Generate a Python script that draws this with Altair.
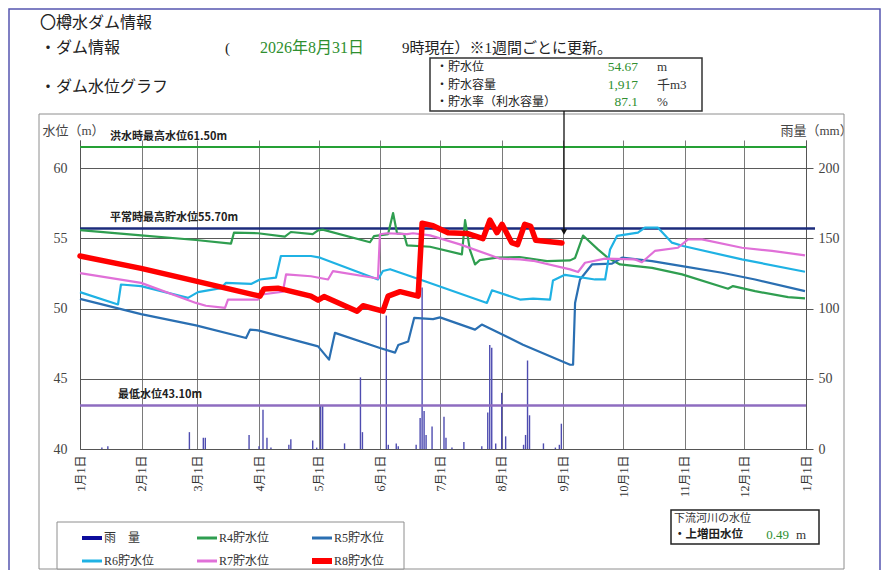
import altair as alt
import pandas as pd

# ---------------- data ----------------
MONTH_DAYS = [0, 31, 59, 90, 120, 151, 181, 212, 243, 273, 304, 334, 365]
MONTH_LABELS = ["1月1日", "2月1日", "3月1日", "4月1日", "5月1日", "6月1日", "7月1日",
                "8月1日", "9月1日", "10月1日", "11月1日", "12月1日", "1月1日"]

SERIES = ["R4貯水位", "R5貯水位", "R6貯水位", "R7貯水位", "R8貯水位"]

R4_DAY = [0, 30.7, 58.3, 75.9, 77.4, 89.5, 103, 106, 117, 119.7, 122, 145.8, 147.8, 154.9, 157.4,
          159.4, 162.9, 164.4, 176, 192, 193.6, 196, 198.6, 201, 209.6, 221, 234.8, 246.4, 248.9, 252.9,
          260.4, 265.5, 271.5, 287.6, 302.7, 325.8, 328.3, 339.4, 356, 364.5]
R4_LV = [55.59, 55.21, 54.88, 54.62, 55.40, 55.36, 55.12, 55.45, 55.30, 55.57, 55.62, 54.72, 55.15, 55.30, 56.80,
         55.35, 55.30, 54.50, 54.40, 53.86, 56.30, 54.20, 53.14, 53.45, 53.62, 53.67, 53.38, 53.43, 53.60, 55.20,
         54.21, 53.60, 53.14, 52.90, 52.43, 51.41, 51.60, 51.24, 50.81, 50.72]

R5_DAY = [0, 30.7, 58.3, 83.5, 85.5, 89.5, 119.7, 125.2, 128.2, 150.8, 158.4, 160, 165, 168, 177.5,
          181, 198.6, 202, 222.7, 246.4, 247.9, 248.9, 251.4, 257.4, 267.5, 272.5, 287.6, 302.7, 322.8,
          339.4, 364.5]
R5_LV = [50.69, 49.6, 48.8, 47.9, 48.5, 48.45, 47.31, 46.36, 48.27, 47.19, 46.86, 47.4, 47.66, 49.33, 49.25,
         49.37, 48.5, 48.86, 47.43, 46.0, 46.0, 50.4, 52.07, 53.14, 53.2, 53.62, 53.38, 53.02, 52.55,
         52.07, 51.24]

R6_DAY = [0, 19.1, 20.6, 30.7, 54.3, 59.3, 70.9, 73.4, 86, 90.5, 98.5, 101, 116.1, 120.7, 149.8,
          152.3, 155.9, 170.9, 204.6, 207.1, 221.2, 227.8, 236.3, 237.8, 243.8, 258.9, 264, 266.5, 270,
          280.5, 284, 290.6, 297.6, 303.2, 332.8, 364.5]
R6_LV = [51.17, 50.29, 51.71, 51.6, 50.76, 51.17, 51.45, 51.83, 51.75, 52.07, 52.2, 53.74, 53.74, 53.62, 52.07,
         52.67, 52.8, 52.07, 50.4, 51.3, 50.64, 50.7, 50.64, 52.0, 52.4, 52.07, 52.07, 54.21, 55.17,
         55.4, 55.76, 55.76, 54.69, 54.45, 53.5, 52.62]

R7_DAY = [0, 30.7, 58.3, 63.3, 72.9, 74.4, 89.5, 91.5, 102, 103.6, 116.1, 124.7, 127.2, 149.8, 150.8,
          154.3, 164.4, 167.4, 176, 191, 211.2, 221.2, 227.8, 246.4, 250.4, 253.9, 264, 279, 282.5, 285,
          289, 300.6, 305.7, 312.7, 332.8, 347.9, 364.5]
R7_LV = [52.52, 51.83, 50.4, 50.2, 50.05, 50.64, 50.64, 51.0, 51.2, 52.43, 52.3, 52.07, 52.67, 52.14, 55.29,
         55.36, 55.3, 55.36, 55.21, 54.57, 53.55, 53.5, 53.4, 52.79, 52.6, 53.26, 53.55, 53.5, 53.3, 53.6,
         54.1, 54.33, 54.93, 54.93, 54.33, 54.1, 53.79]

R8_DAY = [0, 30.7, 58.3, 90.5, 92.5, 99.5, 116.1, 119.7, 122.7, 139.3, 142.3, 152.3, 154.9, 160.9, 170,
          172, 177.5, 185, 194.6, 202.6, 206.1, 209.6, 212.2, 217, 220, 223.6, 226.6, 229.1, 242.3]
R8_LV = [53.74, 52.86, 51.95, 50.88, 51.4, 51.45, 50.88, 50.6, 50.85, 49.81, 50.2, 49.81, 50.88, 51.2, 50.88,
         56.07, 55.9, 55.4, 55.35, 54.98, 56.3, 55.4, 56.0, 54.7, 54.55, 56.0, 55.85, 54.86, 54.67]

RAIN_DAY = [11, 14, 55, 62, 63, 85, 90, 92, 94, 96, 105, 106, 117, 119, 121, 122, 133, 141, 142, 154,
            155, 159, 160, 169, 171, 172, 173, 174, 177, 183, 184, 187, 193, 202, 205, 206, 207, 209, 212,
            214, 223, 224, 225, 226, 233, 239, 241, 242]
RAIN_MM = [1, 2, 12, 8, 8, 10, 2, 28, 8, 1, 3, 7, 6, 1, 31, 31, 4, 51, 12, 95,
           3, 4, 2, 3, 22, 115, 27, 10, 16, 23, 8, 1, 5, 2, 26, 74, 72, 4, 40,
           9, 3, 10, 63, 24, 4, 1, 3, 18]

REF_NAMES = ["洪水時最高水位61.50m", "平常時最高貯水位55.70m", "最低水位43.10m"]
REF_LEVELS = [61.5, 55.7, 43.1]

INFO_LABELS = ["・貯水位", "・貯水容量", "・貯水率（利水容量）"]
INFO_VALUES = ["54.67", "1,917", "87.1"]
INFO_UNITS = ["m", "千m3", "%"]

LEGEND_NAMES = ["雨　量", "R4貯水位", "R5貯水位", "R6貯水位", "R7貯水位", "R8貯水位"]

# ---------------- styles / layout ----------------
SANS = "Noto Sans CJK JP"
SERIF = "Liberation Serif, Noto Sans CJK JP"
SERIES_COLORS = ["#2f9e50", "#2a6fb2", "#1fb2e4", "#e070d8", "#ff0000"]
LEGEND_COLORS = ["#0c0c9c"] + SERIES_COLORS
LEGEND_WIDTHS = [4, 3, 3, 3, 3, 6]
REF_COLORS = ["#25a035", "#1c2c7c", "#8e6cc0"]
REF_WIDTHS = [2, 2.5, 2.5]
REF_LABEL_X = [110, 110, 118]
GREEN_TXT = "#2f8f2f"

W, H = 726, 309
X0, Y0 = 80, 140  # page position of plot origin


def px(x):
    return x - X0


def py(y):
    return y - Y0


one = pd.DataFrame({"k": [0]})

xscale = alt.Scale(domain=[0, 365], nice=False, zero=False)
yscale = alt.Scale(domain=[40, 62], nice=False, zero=False)
rscale = alt.Scale(domain=[0, 220], nice=False, zero=False)

label_expr = ("[" + ",".join("'%s'" % s for s in MONTH_LABELS) + "][indexof(["
              + ",".join(str(d) for d in MONTH_DAYS) + "], datum.value)]")

xaxis = alt.Axis(values=MONTH_DAYS, labelExpr=label_expr, labelAngle=270, grid=True,
                 gridColor="#7a7a7a", gridWidth=1, domainColor="#555", ticks=False,
                 labelPadding=6, labelFont=SERIF, labelFontSize=12, labelColor="#333", title=None)
yaxis = alt.Axis(values=[40, 45, 50, 55, 60], grid=True, gridColor="#5a5a5a", ticks=False,
                 labelPadding=13, labelFont=SERIF, labelFontSize=14, labelColor="#444",
                 domainColor="#555", title="水位（m）", titleAngle=0, titleX=-38, titleY=-3,
                 titleAlign="left", titleBaseline="bottom", titleFont=SERIF, titleFontSize=13,
                 titleFontWeight="normal", titleColor="#444")
raxis = alt.Axis(orient="right", values=[0, 50, 100, 150, 200], grid=False, tickSize=7,
                 tickColor="#555", labelPadding=5, labelFont=SERIF, labelFontSize=14,
                 labelColor="#444", domainColor="#555", title="雨量（mm）", titleAngle=0,
                 titleX=-26, titleY=-3, titleAlign="left", titleBaseline="bottom",
                 titleFont=SERIF, titleFontSize=13, titleFontWeight="normal", titleColor="#444")

# ---------------- data frames ----------------
rows = []
for name, days, lvs in zip(SERIES, [R4_DAY, R5_DAY, R6_DAY, R7_DAY, R8_DAY],
                           [R4_LV, R5_LV, R6_LV, R7_LV, R8_LV]):
    for d, v in zip(days, lvs):
        rows.append({"series": name, "day": d, "level": v})
lvl_df = pd.DataFrame(rows)
rain_df = pd.DataFrame({"day": RAIN_DAY, "mm": RAIN_MM})

color_enc = alt.Color("series:N", scale=alt.Scale(domain=SERIES, range=SERIES_COLORS), legend=None)

base = alt.Chart(lvl_df).encode(
    x=alt.X("day:Q", scale=xscale, axis=xaxis),
    y=alt.Y("level:Q", scale=yscale, axis=yaxis),
    color=color_enc,
)
lines_thin = base.transform_filter(alt.datum.series != "R8貯水位").mark_line(
    strokeWidth=2.2, strokeJoin="round")
lines_r8 = base.transform_filter(alt.datum.series == "R8貯水位").mark_line(
    strokeWidth=5.5, strokeJoin="round", strokeCap="round")

ref_layers = []
for name, lv, col, sw, lx in zip(REF_NAMES, REF_LEVELS, REF_COLORS, REF_WIDTHS, REF_LABEL_X):
    rdf = pd.DataFrame({"level": [lv], "name": [name]})
    rule = alt.Chart(rdf).mark_rule(color=col, strokeWidth=sw).encode(
        y=alt.Y("level:Q", scale=yscale, axis=yaxis),
        x=alt.value(0), x2=alt.value(W + (9 if lv == 55.7 else 0)))
    lab = alt.Chart(rdf).mark_text(align="left", baseline="middle", dy=-10, font=SANS,
                                   fontSize=11, fontWeight="bold", color="#222").encode(
        y=alt.Y("level:Q", scale=yscale, axis=yaxis), x=alt.value(px(lx)), text="name:N")
    ref_layers += [rule, lab]

main = alt.layer(*ref_layers, lines_thin, lines_r8)

rain = alt.Chart(rain_df).mark_rule(color="#4e4cb0", strokeWidth=1.4).encode(
    x=alt.X("day:Q", scale=xscale, axis=xaxis),
    y=alt.Y("mm:Q", scale=rscale, axis=raxis),
    y2=alt.datum(0),
)


# ---------------- annotations ----------------
def txt(t, x, y, size, color="#222", font=SANS, weight="normal", align="left", baseline="middle"):
    return alt.Chart(pd.DataFrame({"t": [t]})).mark_text(
        align=align, baseline=baseline, font=font, fontSize=size, fontWeight=weight, color=color
    ).encode(text="t:N", x=alt.value(px(x)), y=alt.value(py(y)))


def box(x1, y1, x2, y2, stroke, sw=1.0, fill="white", fill_op=1.0):
    return alt.Chart(one).mark_rect(fill=fill, fillOpacity=fill_op, stroke=stroke,
                                    strokeWidth=sw).encode(
        x=alt.value(px(x1)), x2=alt.value(px(x2)), y=alt.value(py(y1)), y2=alt.value(py(y2)))


def hline(x1, x2, y, color, sw):
    return alt.Chart(one).mark_rule(color=color, strokeWidth=sw).encode(
        x=alt.value(px(x1)), x2=alt.value(px(x2)), y=alt.value(py(y)))


frames = [
    box(9, 9, 880, 600, "#5656b0", 1.5, fill="white", fill_op=0),
    box(39, 114, 844, 569, "#8e8e8e", 1.0, fill="white", fill_op=0),
]

annos = [
    txt("〇樽水ダム情報", 40, 23, 16),
    txt("・ダム情報", 40, 48, 16),
    txt("(", 225, 48, 15, font=SERIF),
    txt("2026年8月31日", 260, 48, 16, color=GREEN_TXT, font=SERIF),
    txt("9時現在）※1週間ごとに更新。", 402, 48, 15, font=SERIF),
    txt("・ダム水位グラフ", 40, 87, 16),
    box(430, 58, 702, 111, "#333", 1.5),
]
for i, (lab, val, unit) in enumerate(zip(INFO_LABELS, INFO_VALUES, INFO_UNITS)):
    yy = 67 + i * 17.5
    annos.append(txt(lab, 436, yy, 12))
    annos.append(txt(val, 638, yy, 13.5, color=GREEN_TXT, font=SERIF, align="right"))
    annos.append(txt(unit, 657, yy, 13, color="#333", font=SERIF))

# arrow from info box to latest value
annos.append(alt.Chart(one).mark_rule(color="#111", strokeWidth=1.3).encode(
    x=alt.value(px(564)), y=alt.value(py(111)), y2=alt.value(py(232))))
annos.append(alt.Chart(one).mark_point(shape="triangle-down", filled=True, size=38,
                                       color="#111", opacity=1).encode(
    x=alt.value(px(564)), y=alt.value(py(232))))

# legend box
annos.append(box(57, 522, 404, 569, "#8e8e8e", 1.0))
for i, (nm, col, sw) in enumerate(zip(LEGEND_NAMES, LEGEND_COLORS, LEGEND_WIDTHS)):
    cx = 82 + (i % 3) * 115
    cy = 538 + (i // 3) * 23
    annos.append(hline(cx, cx + 20, cy, col, sw))
    annos.append(txt(nm, cx + 22, cy, 12, color="#333", font=SERIF))

# downstream river box
annos += [
    box(671, 510, 819, 544, "#222", 1.5),
    txt("下流河川の水位", 674, 519, 11, color="#333", font=SERIF),
    txt("・上増田水位", 674, 535, 11.5, weight="bold"),
    txt("0.49", 789, 535, 13, color=GREEN_TXT, font=SERIF, align="right"),
    txt("m", 796, 535, 13, color="#333", font=SERIF),
]

chart = alt.layer(*frames, rain, main, *annos).resolve_scale(y="independent").properties(
    width=W, height=H,
    autosize=alt.AutoSizeParams(type="none"),
    padding={"left": 72, "top": 132, "right": 76, "bottom": 121},
    background="white",
).configure_view(stroke=None)

chart.save("out.html", embed_options={"renderer": "svg", "actions": False})
